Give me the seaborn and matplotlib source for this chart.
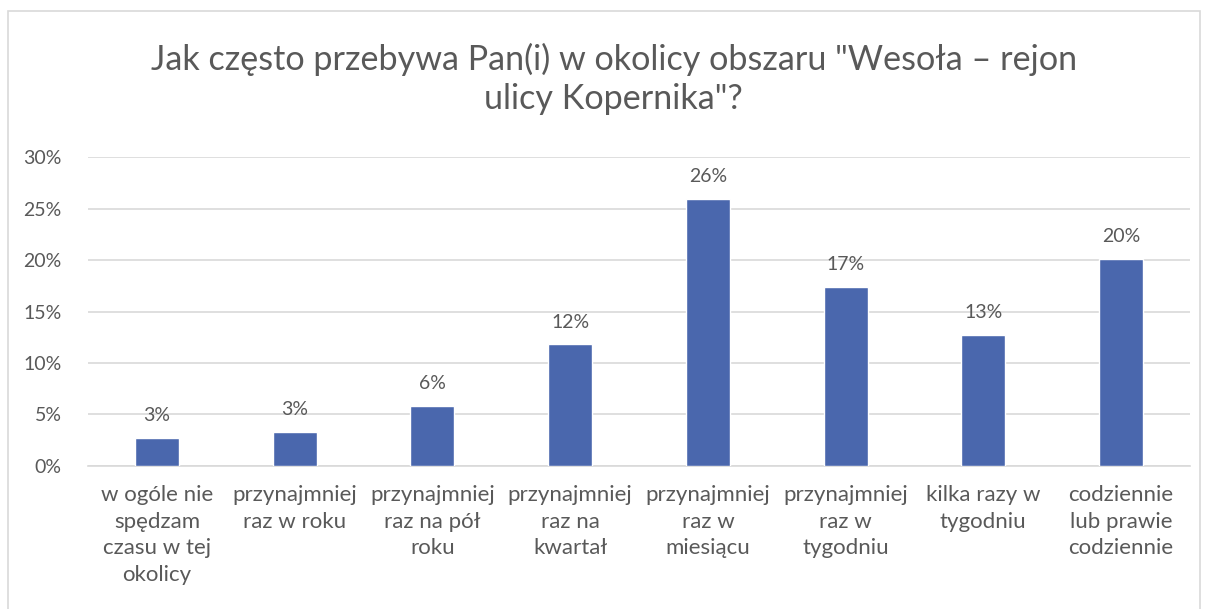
import matplotlib
matplotlib.use("Agg")
import matplotlib.pyplot as plt
import matplotlib.patches as mpatches
from matplotlib.ticker import PercentFormatter
import seaborn as sns
import pandas as pd

# categories and shares
categories = [
    "w ogóle nie\nspędzam\nczasu w tej\nokolicy",
    "przynajmniej\nraz w roku",
    "przynajmniej\nraz na pół\nroku",
    "przynajmniej\nraz na\nkwartał",
    "przynajmniej\nraz w\nmiesiącu",
    "przynajmniej\nraz w\ntygodniu",
    "kilka razy w\ntygodniu",
    "codziennie\nlub prawie\ncodziennie",
]
shares = [0.027, 0.033, 0.058, 0.118, 0.259, 0.174, 0.127, 0.201]
title = 'Jak często przebywa Pan(i) w okolicy obszaru "Wesoła – rejon\nulicy Kopernika"?'

df = pd.DataFrame({"kategoria": categories, "udzial": shares})

sns.set_style("white")
plt.rcParams['font.family'] = ['Lato', 'DejaVu Sans']
txt = "#595959"
bar_col = "#4A67AD"

fig = plt.figure(figsize=(12.08, 6.09), dpi=100)
ax = fig.add_axes([0.073, 0.235, 0.912, 0.507])

sns.barplot(data=df, x="kategoria", y="udzial", color=bar_col, width=0.32,
            saturation=1, ax=ax, zorder=3)

ax.set_ylim(0, 0.30)
ax.set_yticks([0, 0.05, 0.10, 0.15, 0.20, 0.25, 0.30])
ax.yaxis.set_major_formatter(PercentFormatter(1.0, decimals=0))
ax.grid(axis="y", color="#D9D9D9", linewidth=1.2, zorder=0)
ax.set_axisbelow(True)
for s in ["top", "right", "left"]:
    ax.spines[s].set_visible(False)
ax.spines["bottom"].set_color("#D9D9D9")
ax.spines["bottom"].set_linewidth(1.2)
ax.set_xlabel("")
ax.set_ylabel("")
ax.tick_params(axis="y", length=0, colors=txt, labelsize=14, pad=19)
ax.tick_params(axis="x", length=0, colors=txt, labelsize=16, pad=14)
for lab in ax.get_xticklabels():
    lab.set_linespacing(1.4)

for cont in ax.containers:
    ax.bar_label(cont, labels=[f"{v*100:.0f}%" for v in shares],
                 padding=10, color=txt, fontsize=14)

fig.text(0.508, 0.870, title, ha="center", va="center", fontsize=24.6,
         color=txt, linespacing=1.27)

# chart frame
fig.patches.append(mpatches.Rectangle((8 / 1208, -0.02), 1192 / 1208, 1 - 11 / 609 + 0.02,
                                      transform=fig.transFigure, fill=False,
                                      edgecolor="#D9D9D9", linewidth=1.2))

fig.savefig("out.png", dpi=100)
